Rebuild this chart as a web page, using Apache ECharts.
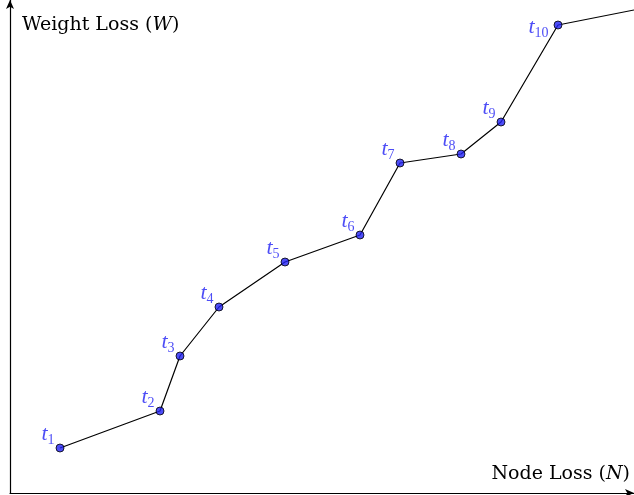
<!DOCTYPE html>
<html>
<head>
<meta charset="utf-8">
<script src="https://cdn.jsdelivr.net/npm/echarts@6/dist/echarts.min.js"></script>
<style>
  html, body { margin: 0; padding: 0; background: #fff; }
  #chart { width: 634px; height: 495px; }
</style>
</head>
<body>
<div id="chart"></div>
<script>
// Trajectory of (node loss, weight loss) across training steps t1..t10
const stepNames = ['1', '2', '3', '4', '5', '6', '7', '8', '9', '10'];
const nodeLoss   = [50, 150, 170, 209, 275, 350, 390, 451, 491, 548];
const weightLoss = [45,  82, 137, 186, 231, 258, 330, 339, 371, 468];
// The curve keeps going past the last labelled step
const tailPoint = [624, 483];

const serif = '"Liberation Serif", "DejaVu Serif", serif';
const wideSerif = '"DejaVu Serif", "Liberation Serif", serif';
const blue = '#2020f4';

const pts = nodeLoss.map((x, i) => ({
  value: [x, weightLoss[i]],
  label: {
    formatter: '{t|t}{s|' + stepNames[i] + '}',
    position: 'left',
    distance: i === 9 ? 5 : 1,
    offset: i === 9 ? [0, 2] : [0, -14]
  }
}));

const chart = echarts.init(document.getElementById('chart'));
chart.setOption({
  animation: false,
  grid: { left: 10, right: 0, top: 0, bottom: 2 },
  xAxis: {
    type: 'value', min: 0, max: 624,
    axisLine: { show: true, symbol: ['none', 'arrow'], symbolSize: [6, 9],
                lineStyle: { color: '#000', width: 1.2 } },
    axisTick: { show: false }, axisLabel: { show: false }, splitLine: { show: false }
  },
  yAxis: {
    type: 'value', min: 0, max: 493,
    axisLine: { show: true, symbol: ['none', 'arrow'], symbolSize: [6, 9],
                lineStyle: { color: '#000', width: 1.2 } },
    axisTick: { show: false }, axisLabel: { show: false }, splitLine: { show: false }
  },
  graphic: [
    {
      type: 'text', left: 22, top: 16,
      style: {
        text: '{a|Weight Loss (}{b|W}{a|)}',
        rich: {
          a: { fontFamily: wideSerif, fontSize: 19, fill: '#000' },
          b: { fontFamily: wideSerif, fontSize: 19, fontStyle: 'italic', fill: '#000' }
        }
      }
    },
    {
      type: 'text', right: 4, top: 465,
      style: {
        text: '{a|Node Loss (}{b|N}{a|)}',
        rich: {
          a: { fontFamily: wideSerif, fontSize: 19, fill: '#000' },
          b: { fontFamily: wideSerif, fontSize: 19, fontStyle: 'italic', fill: '#000' }
        }
      }
    }
  ],
  series: [
    {
      type: 'line',
      data: nodeLoss.map((x, i) => [x, weightLoss[i]]).concat([tailPoint]),
      showSymbol: false,
      lineStyle: { color: '#000', width: 1.2 },
      z: 2
    },
    {
      type: 'scatter',
      data: pts,
      symbol: 'circle',
      symbolSize: 8,
      itemStyle: { color: blue, borderColor: '#000', borderWidth: 1 },
      label: {
        show: true,
        rich: {
          t: { fontFamily: serif, fontStyle: 'italic', fontSize: 22, color: blue },
          s: { fontFamily: serif, fontSize: 14, color: blue, padding: [12, 0, 0, 0] }
        }
      },
      z: 3
    }
  ]
});
</script>
</body>
</html>
